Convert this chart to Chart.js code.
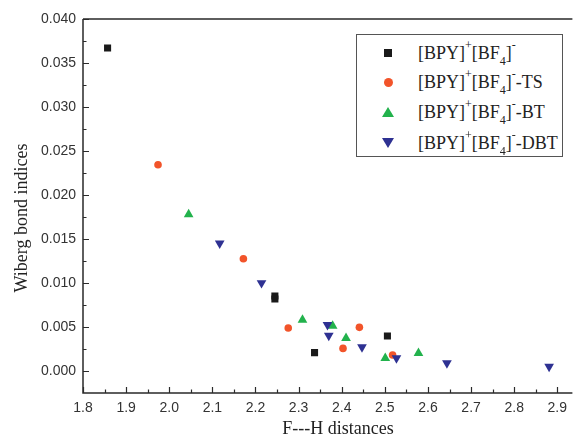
<!DOCTYPE html>
<html>
<head>
<meta charset="utf-8">
<script src="https://cdn.jsdelivr.net/npm/chart.js@4"></script>
<style>
  html, body { margin: 0; padding: 0; background: #fff; }
  #wrap { position: relative; width: 578px; height: 439px; }
  #legend {
    position: absolute; left: 356px; top: 34px; width: 205px; height: 121px;
    border: 1.5px solid #555; background: #fff;
    font-family: 'Liberation Serif', 'Times New Roman', serif; font-size: 18px; color: #222;
  }
  .row { position: absolute; left: 0; height: 22px; line-height: 22px; white-space: nowrap; }
  .txt { position: absolute; left: 61px; top: 0; }
  .txt sup, .txt sub { font-size: 12px; line-height: 0; vertical-align: baseline; position: relative; }
  .txt sup { top: -10px; }
  .txt sub { top: 6px; }
  .mk { position: absolute; }
</style>
</head>
<body>
<div id="wrap">
  <canvas id="chart" width="578" height="439"></canvas>
  <div id="legend"></div>
</div>
<script>
// series data (F---H distance, Wiberg bond index)
const bpyX = [1.857, 2.245, 2.245, 2.337, 2.506];
const bpyY = [0.0367, 0.00853, 0.00819, 0.00209, 0.00397];

const tsX = [1.974, 2.172, 2.276, 2.403, 2.441, 2.518];
const tsY = [0.02344, 0.01275, 0.00488, 0.00257, 0.00496, 0.00181];

const btX = [2.045, 2.309, 2.379, 2.410, 2.501, 2.578];
const btY = [0.0178, 0.0058, 0.00513, 0.00373, 0.00146, 0.00203];

const dbtX = [2.117, 2.214, 2.367, 2.370, 2.447, 2.527, 2.644, 2.881];
const dbtY = [0.0145, 0.0100, 0.00524, 0.00403, 0.00271, 0.00146, 0.0009, 0.0005];

const seriesSuffix = ['', '-TS', '-BT', '-DBT'];
const seriesColors = ['#1a1a1a', '#f2542a', '#22b24c', '#2e3192'];

const xTitle = 'F---H distances';
const yTitle = 'Wiberg bond indices';

const toPoints = (xs, ys) => xs.map((x, i) => ({ x: x, y: ys[i] }));

// axis frame, inward ticks and axis titles
const framePlugin = {
    id: 'frame',
    beforeDatasetsDraw(chart) {
        const { ctx, chartArea: a, scales: { x, y } } = chart;
        ctx.save();
        ctx.strokeStyle = '#2a2a2a';
        ctx.lineWidth = 1.5;
        ctx.beginPath();
        ctx.moveTo(a.left, a.top); ctx.lineTo(a.right, a.top);
        ctx.moveTo(a.left, a.top); ctx.lineTo(a.left, a.bottom); ctx.lineTo(a.right, a.bottom);
        ctx.stroke();

        ctx.lineWidth = 1.2;
        ctx.beginPath();
        x.ticks.forEach(t => {
            const px = Math.round(x.getPixelForValue(t.value)) + 0.5;
            ctx.moveTo(px, a.bottom); ctx.lineTo(px, a.bottom - 6);
            const mid = t.value + 0.05;
            if (mid < x.max) {
                const mx = Math.round(x.getPixelForValue(mid)) + 0.5;
                ctx.moveTo(mx, a.bottom); ctx.lineTo(mx, a.bottom - 3.5);
            }
        });
        y.ticks.forEach(t => {
            const py = Math.round(y.getPixelForValue(t.value)) + 0.5;
            ctx.moveTo(a.left, py); ctx.lineTo(a.left + 6, py);
            const mid = t.value + 0.0025;
            if (mid < y.max) {
                const my = Math.round(y.getPixelForValue(mid)) + 0.5;
                ctx.moveTo(a.left, my); ctx.lineTo(a.left + 3.5, my);
            }
        });
        ctx.stroke();

        ctx.fillStyle = '#222';
        ctx.font = "18px 'Liberation Serif', 'Times New Roman', serif";
        ctx.textAlign = 'center';
        ctx.textBaseline = 'middle';
        ctx.fillText(xTitle, 338, 429);
        ctx.translate(22, 218);
        ctx.rotate(-Math.PI / 2);
        ctx.fillText(yTitle, 0, 0);
        ctx.restore();
    }
};

Chart.defaults.font.family = "'Liberation Sans', Arial, sans-serif";
Chart.defaults.font.size = 14;
Chart.defaults.color = '#333';

new Chart(document.getElementById('chart'), {
    type: 'scatter',
    data: {
        datasets: [
            { label: '[BPY]+[BF4]-', data: toPoints(bpyX, bpyY), pointStyle: 'rect', pointRadius: 5, backgroundColor: seriesColors[0], borderWidth: 0, order: 4 },
            { label: '[BPY]+[BF4]--TS', data: toPoints(tsX, tsY), pointStyle: 'circle', pointRadius: 3.8, backgroundColor: seriesColors[1], borderWidth: 0, order: 2 },
            { label: '[BPY]+[BF4]--BT', data: toPoints(btX, btY), pointStyle: 'triangle', pointRadius: 5.6, backgroundColor: seriesColors[2], borderWidth: 0, order: 3 },
            { label: '[BPY]+[BF4]--DBT', data: toPoints(dbtX, dbtY), pointStyle: 'triangle', rotation: 180, pointRadius: 5.6, backgroundColor: seriesColors[3], borderWidth: 0, order: 1 }
        ]
    },
    options: {
        responsive: false,
        animation: false,
        layout: { padding: { top: 19, right: 0, left: 0, bottom: 0 } },
        plugins: { legend: { display: false }, tooltip: { enabled: false } },
        scales: {
            x: {
                type: 'linear',
                min: 1.8,
                max: 2.935,
                grid: { display: false, drawTicks: false },
                border: { display: false },
                ticks: { stepSize: 0.1, includeBounds: false, padding: 7, callback: v => v.toFixed(1) },
                afterFit: s => { s.height = 46; }
            },
            y: {
                type: 'linear',
                min: -0.0025,
                max: 0.040,
                grid: { display: false, drawTicks: false },
                border: { display: false },
                ticks: { stepSize: 0.005, includeBounds: false, padding: 7, callback: v => v.toFixed(3) },
                afterFit: s => { s.width = 83; }
            }
        }
    },
    plugins: [framePlugin]
});

// legend with real superscripts / subscripts
(function () {
    const legend = document.getElementById('legend');
    const rowCenters = [18, 47, 77, 108];
    const markerHtml = [
        '<div class="mk" style="left:27px;top:7px;width:8px;height:8px;background:' + seriesColors[0] + '"></div>',
        '<div class="mk" style="left:26.5px;top:6.5px;width:9px;height:9px;border-radius:50%;background:' + seriesColors[1] + '"></div>',
        '<div class="mk" style="left:25px;top:6px;width:0;height:0;border-left:6px solid transparent;border-right:6px solid transparent;border-bottom:10px solid ' + seriesColors[2] + '"></div>',
        '<div class="mk" style="left:25px;top:6px;width:0;height:0;border-left:6px solid transparent;border-right:6px solid transparent;border-top:10px solid ' + seriesColors[3] + '"></div>'
    ];
    seriesSuffix.forEach((suffix, i) => {
        const row = document.createElement('div');
        row.className = 'row';
        row.style.top = (rowCenters[i] - 11) + 'px';
        row.style.width = '205px';
        row.innerHTML = markerHtml[i] +
            '<span class="txt">[BPY]<sup>+</sup>[BF<sub>4</sub>]<sup>-</sup>' + suffix + '</span>';
        legend.appendChild(row);
    });
})();
</script>
</body>
</html>
